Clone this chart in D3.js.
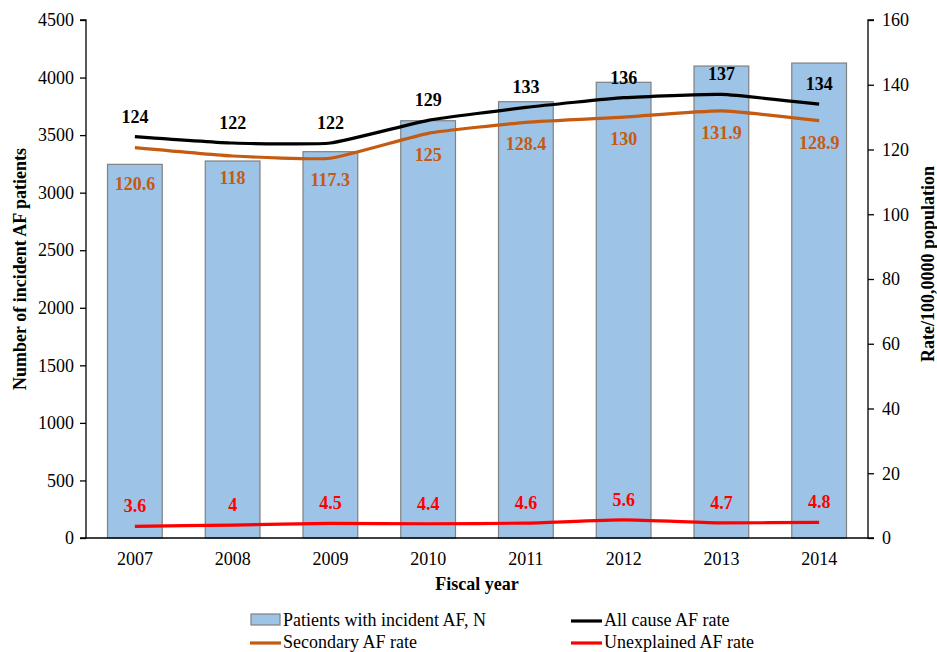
<!DOCTYPE html>
<html><head><meta charset="utf-8">
<script src="https://cdn.jsdelivr.net/npm/d3@7"></script>
<style>
body{margin:0;background:#fff;}
</style></head>
<body><svg id="c" width="937" height="652"></svg>
<script>
const years = ["2007","2008","2009","2010","2011","2012","2013","2014"];
const patients = [3246, 3275, 3356, 3625, 3790, 3959, 4100, 4126];
const allCause = [124, 122, 122, 129, 133, 136, 137, 134];
const secondary = [120.6, 118, 117.3, 125, 128.4, 130, 131.9, 128.9];
const unexplained = [3.6, 4, 4.5, 4.4, 4.6, 5.6, 4.7, 4.8];
const leftTicks = [0,500,1000,1500,2000,2500,3000,3500,4000,4500];
const rightTicks = [0,20,40,60,80,100,120,140,160];

const FONT = "'Liberation Serif', 'Times New Roman', Times, serif";
const svg = d3.select("#c").style("font-family", FONT);
const L = 86, R = 868, T = 20, B = 538;
const x = d3.scaleBand().domain(years).range([L, R]).paddingInner(0.44).paddingOuter(0.22);
const yL = d3.scaleLinear().domain([0,4500]).range([B,T]);
const yR = d3.scaleLinear().domain([0,160]).range([B,T]);
const cx = d => x(d) + x.bandwidth()/2;

// bars
svg.append("g").selectAll("rect").data(years).join("rect")
  .attr("x", d => x(d)).attr("width", x.bandwidth())
  .attr("y", (d,i) => yL(patients[i])).attr("height", (d,i) => B - yL(patients[i]))
  .attr("fill", "#9DC3E6").attr("stroke", "#808080").attr("stroke-width", 1.2);

// axes
const axL = svg.append("g").attr("transform", `translate(${L},0)`)
  .call(d3.axisLeft(yL).tickValues(leftTicks).tickSize(6).tickPadding(6).tickFormat(d3.format("d")));
const axR = svg.append("g").attr("transform", `translate(${R},0)`)
  .call(d3.axisRight(yR).tickValues(rightTicks).tickSize(6).tickPadding(8).tickFormat(d3.format("d")));
const axB = svg.append("g").attr("transform", `translate(0,${B})`)
  .call(d3.axisBottom(x).tickSize(0).tickPadding(14));
[axL, axR, axB].forEach(a => {
  a.attr("font-family", null).attr("font-size", null);
  a.select(".domain").attr("stroke", "#000").attr("stroke-width", 1.3);
  a.selectAll(".tick line").attr("stroke", "#000").attr("stroke-width", 1.3);
  a.selectAll("text").attr("fill", "#000")
    .style("font-family", FONT).style("font-size", "18px");
});
axL.select(".domain").attr("d", `M-6,${T}H0V${B}H-6`);
axR.select(".domain").attr("d", `M6,${T}H0V${B}H6`);
axB.select(".domain").attr("d", `M${L},0H${R}`);

// lines
const series = [
  {vals: unexplained, color: "#FF0000", dy: -20},
  {vals: secondary, color: "#C55A11", dy: 22},
  {vals: allCause, color: "#000000", dy: -20}
];
const line = d3.line().x(d => cx(d.y)).y(d => yR(d.v)).curve(d3.curveCardinal.tension(0.55));
series.forEach(s => {
  svg.append("path").datum(years.map((y,i) => ({y, v: s.vals[i]})))
    .attr("d", line).attr("fill", "none").attr("stroke", s.color).attr("stroke-width", 3.2);
});
series.forEach((s, si) => {
  svg.append("g").selectAll("text").data(years).join("text")
    .attr("x", d => cx(d))
    .attr("y", (d,i) => yR(s.vals[i]) + s.dy + ((si === 1 && i === 0) ? 14 : 0))
    .attr("text-anchor", "middle").attr("dominant-baseline", "central")
    .style("font-family", FONT).style("font-weight", "bold").style("font-size", "18px")
    .attr("fill", s.color)
    .text((d,i) => s.vals[i]);
});

// axis titles
const title = (sel) => sel.style("font-family", FONT).style("font-weight", "bold").style("font-size", "18px");
svg.append("text").attr("x", 477).attr("y", 590).attr("text-anchor", "middle")
  .call(title).text("Fiscal year");
svg.append("text").attr("transform", "translate(20,269) rotate(-90)").attr("text-anchor", "middle")
  .attr("dominant-baseline", "central").call(title)
  .text("Number of incident AF patients");
svg.append("text").attr("transform", "translate(928,264) rotate(-90)").attr("text-anchor", "middle")
  .attr("dominant-baseline", "central").call(title)
  .text("Rate/100,0000 population");

// legend
const leg = svg.append("g");
leg.append("rect").attr("x", 251).attr("y", 614).attr("width", 29).attr("height", 11)
  .attr("fill", "#9DC3E6").attr("stroke", "#808080").attr("stroke-width", 1.2);
leg.append("text").attr("x", 283).attr("y", 620).attr("dominant-baseline", "central")
  .style("font-family", FONT).style("font-size", "18px").text("Patients with incident AF, N");
const legLines = [
  {x: 571, y: 621, color: "#000000", label: "All cause AF rate"},
  {x: 250, y: 643, color: "#C55A11", label: "Secondary AF rate"},
  {x: 571, y: 643, color: "#FF0000", label: "Unexplained AF rate"}
];
legLines.forEach(l => {
  leg.append("line").attr("x1", l.x).attr("x2", l.x + 31).attr("y1", l.y).attr("y2", l.y)
    .attr("stroke", l.color).attr("stroke-width", 3.2);
  leg.append("text").attr("x", l.x + 33).attr("y", l.y - 1).attr("dominant-baseline", "central")
    .style("font-family", FONT).style("font-size", "18px").text(l.label);
});
</script></body></html>
